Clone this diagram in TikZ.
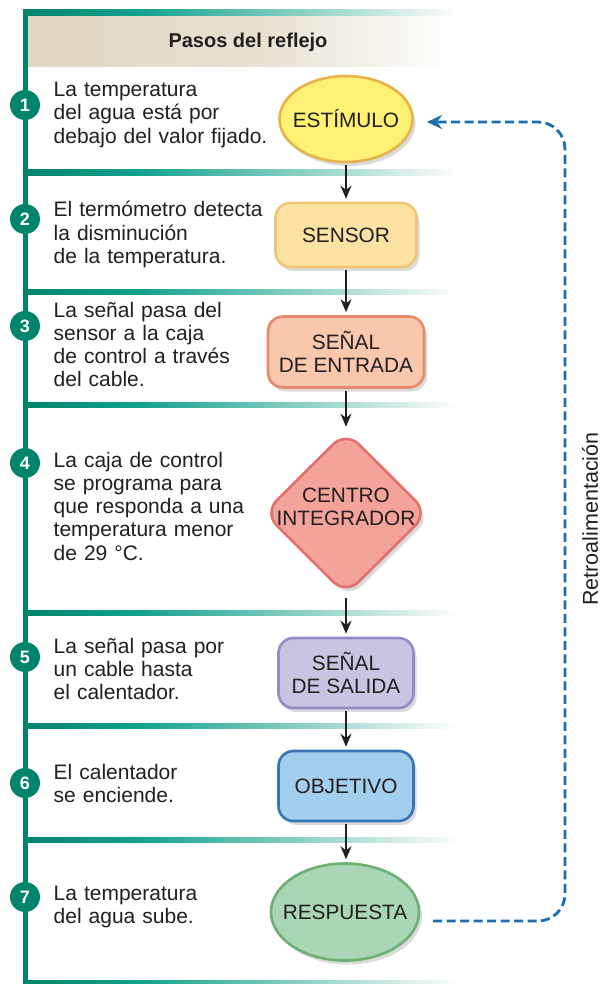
\documentclass[tikz,border=0pt]{standalone}
\usepackage{fontspec}
\setmainfont{Liberation Sans}
\usetikzlibrary{shapes.geometric,shadows,arrows.meta}
\definecolor{ink}{HTML}{231F20}
\definecolor{tealA}{HTML}{00846C}
\definecolor{tealB}{HTML}{12A28C}
\definecolor{tealC}{HTML}{E4F2EF}
\definecolor{beige}{HTML}{E0D7C3}
\definecolor{fbblue}{HTML}{1C6DB1}
\definecolor{estF}{HTML}{FFF173}\definecolor{estD}{HTML}{E6B24C}
\definecolor{senF}{HTML}{FDE3A3}\definecolor{senD}{HTML}{EFC577}
\definecolor{entF}{HTML}{F9C7AC}\definecolor{entD}{HTML}{E8896A}
\definecolor{ciF}{HTML}{F4A39A}\definecolor{ciD}{HTML}{E2706C}
\definecolor{salF}{HTML}{C8C5E3}\definecolor{salD}{HTML}{958BC8}
\definecolor{objF}{HTML}{A3CEEE}\definecolor{objD}{HTML}{3776B6}
\definecolor{resF}{HTML}{A9D7B6}\definecolor{resD}{HTML}{6DB071}
\begin{document}
\begin{tikzpicture}[x=1pt,y=-1pt,
  steptext/.style={font=\fontsize{21}{23.3}\selectfont, text=ink, anchor=base west, align=left, inner sep=0pt, text width=230pt},
  nodetext/.style={font=\fontsize{20.8}{23}\selectfont, text=ink, align=center, inner sep=0pt},
  shape shadow/.style={drop shadow={shadow xshift=3pt, shadow yshift=-4pt, opacity=.2, fill=black!70}},
  rbox/.style={nodetext, rectangle, rounded corners=15pt, line width=2.6pt, shape shadow},
  ebox/.style={nodetext, ellipse, line width=2.6pt, shape shadow},
  num/.style={circle, fill=tealA, text=white, font=\bfseries\fontsize{18}{18}\selectfont, minimum size=30pt, inner sep=0pt},
  flow/.style={-{Stealth[length=13pt,width=11pt]}, line width=1.8pt, draw=ink, shorten <=2pt, shorten >=3pt},
  fb/.style={-{Stealth[length=15pt,width=14pt]}, line width=2.8pt, draw=fbblue, dash pattern=on 9pt off 4.5pt, rounded corners=27pt}
]
\useasboundingbox (0,0) rectangle (602,984);
\fill[white] (0,0) rectangle (602,984);
% header band
\shade[left color=beige, right color=beige!75!white] (27,14.5) rectangle (260,67);
\shade[left color=beige!75!white, right color=white] (260,14.5) rectangle (455,67);
\node[font=\bfseries\fontsize{20}{22}\selectfont, text=ink] (title) at (248,42) {Pasos del reflejo};
% separator lines
\foreach \yy in {12.5,172.5,292,405,613,726,840,983} {
  \shade[left color=tealA, right color=tealB] (23,\yy-2.6) rectangle (140,\yy+2.6);
  \shade[left color=tealB, right color=tealC] (140,\yy-2.6) rectangle (420,\yy+2.6);
  \shade[left color=tealC, right color=white] (420,\yy-2.6) rectangle (458,\yy+2.6);
}
% vertical line
\fill[tealA] (23,10) rectangle (27.5,984);
% step numbers
\node[num] (n1) at (25,105) {1};
\node[num] (n2) at (25,219) {2};
\node[num] (n3) at (25,326) {3};
\node[num] (n4) at (25,463) {4};
\node[num] (n5) at (25,657) {5};
\node[num] (n6) at (25,783) {6};
\node[num] (n7) at (25,897) {7};
% step texts
\node[steptext] (t1) at (53.5,96.7) {La temperatura\\del agua está por\\debajo del valor fijado.};
\node[steptext] (t2) at (53.5,217) {El termómetro detecta\\la disminución\\de la temperatura.};
\node[steptext] (t3) at (53.5,317) {La señal pasa del\\sensor a la caja\\de control a través\\del cable.};
\node[steptext] (t4) at (53.5,467) {La caja de control\\se programa para\\que responda a una\\temperatura menor\\de 29 °C.};
\node[steptext] (t5) at (53.5,653) {La señal pasa por\\un cable hasta\\el calentador.};
\node[steptext] (t6) at (53.5,779) {El calentador\\se enciende.};
\node[steptext] (t7) at (53.5,900) {La temperatura\\del agua sube.};
% flow nodes
\node[ebox, fill=estF, draw=estD, minimum width=133pt, minimum height=86pt] (est) at (346,119) {\makebox[0pt]{ESTÍMULO}};
\node[rbox, fill=senF, draw=senD, minimum width=141pt, minimum height=64pt] (sen) at (346,235) {SENSOR};
\node[rbox, fill=entF, draw=entD, minimum width=156pt, minimum height=71pt] (ent) at (346,352) {SEÑAL\\DE ENTRADA};
\node[diamond, fill=ciF, draw=ciD, line width=2.6pt, rounded corners=18pt, minimum width=165pt, minimum height=164pt, inner sep=0pt, shape shadow] (ci) at (346,513) {};
\node[nodetext] (citxt) at (346,507) {CENTRO\\INTEGRADOR};
\node[rbox, fill=salF, draw=salD, minimum width=135pt, minimum height=70pt] (sal) at (346,673) {SEÑAL\\DE SALIDA};
\node[rbox, fill=objF, draw=objD, minimum width=135pt, minimum height=70pt] (obj) at (346,786) {OBJETIVO};
\node[ebox, fill=resF, draw=resD, minimum width=148pt, minimum height=97pt] (res) at (345,912) {\makebox[0pt]{RESPUESTA}};
% arrows
\draw[flow] (est.south) -- (sen.north);
\draw[flow] (sen.south) -- (ent.north);
\draw[flow] (ent.south) -- (ci.north);
\draw[flow] (ci.south) -- (sal.north);
\draw[flow] (sal.south) -- (obj.north);
\draw[flow] (obj.south -| sal.south) -- (sal.south |- res.north);
% feedback
\coordinate (fbs) at (433,921);
\coordinate (fbe) at (427,122);
\draw[fb] (fbs) -- (565,921) -- (565,122) -- (fbe);
\node[rotate=90, font=\fontsize{21.5}{22}\selectfont, text=ink] (retro) at (590,519) {Retroalimentación};
\end{tikzpicture}
\end{document}
